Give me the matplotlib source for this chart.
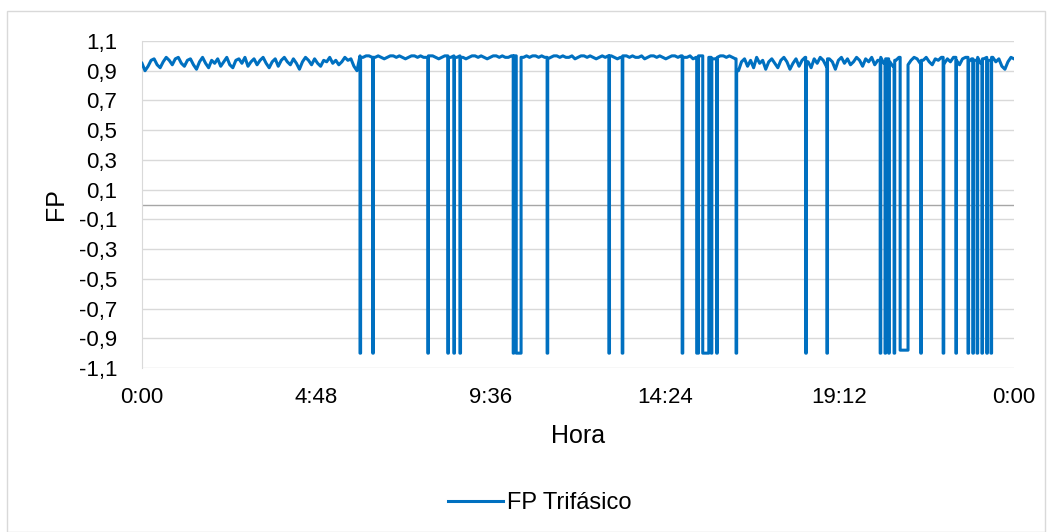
import numpy as np
import matplotlib.pyplot as plt
from matplotlib.patches import Rectangle
from matplotlib.lines import Line2D

plt.rcParams['font.family'] = ['Liberation Sans', 'DejaVu Sans']

# FP sampled every 5 min, 0:00 -> 24:00
fp_a = [0.95, 0.90, 0.93, 0.97, 0.98, 0.94, 0.92, 0.96, 0.99, 0.97, 0.94, 0.98,
        0.99, 0.95, 0.93, 0.97, 0.98, 0.94, 0.91, 0.96, 0.99, 0.95, 0.92, 0.97,
        0.95, 0.98, 0.93, 0.96, 0.99, 0.94, 0.92, 0.97, 0.98, 0.95, 0.99, 0.93,
        0.96, 0.98, 0.94, 0.97, 0.99, 0.95, 0.92, 0.96, 0.98, 0.93, 0.97, 0.99,
        0.96, 0.94, 0.98, 0.95, 0.91, 0.96, 0.99, 0.97, 0.94, 0.98, 0.95, 0.93,
        0.97, 0.96, 0.99, 0.95, 0.97, 0.94, 0.96, 0.99, 0.97, 0.98, 0.93, 0.90]
fp_b = [1.00, 0.99, 1.00, 1.00, 0.99, 0.99, 1.00, 0.99, 0.98, 0.99, 1.00, 1.00,
        0.99, 1.00, 0.99, 0.98, 0.99, 1.00, 1.00, 0.99, 1.00, 0.99, 0.99, 1.00,
        1.00, 0.99, 0.98, 0.99, 1.00, 1.00, 0.99, 1.00, 0.99, 1.00, 0.99, 0.98,
        0.99, 1.00, 1.00, 0.99, 1.00, 0.99, 0.98, 0.99, 1.00, 1.00, 0.99, 1.00,
        0.99, 0.99, 1.00, 1.00, 0.99, 0.98, 0.99, 1.00, 0.99, 1.00, 1.00, 0.99,
        1.00, 0.99, 0.98, 0.99, 1.00, 1.00, 0.99, 1.00, 0.99, 0.99, 1.00, 0.98,
        0.99, 1.00, 1.00, 0.99, 1.00, 0.99, 0.98, 0.99, 1.00, 0.99, 1.00, 1.00,
        0.99, 0.98, 0.99, 1.00, 1.00, 0.99, 1.00, 0.99, 0.99, 1.00, 0.98, 0.99,
        1.00, 1.00, 0.99, 1.00, 0.99, 0.98, 0.99, 1.00, 1.00, 0.99, 1.00, 0.99,
        0.99, 1.00, 0.98, 0.99, 1.00, 1.00, 0.99, 1.00, 0.99, 0.98, 0.99, 1.00,
        1.00, 0.99, 1.00, 0.99]
fp_c = [0.98, 0.90, 0.96, 0.98, 0.93, 0.97, 0.92, 0.99, 0.95, 0.97, 0.91, 0.96,
        0.98, 0.95, 0.92, 0.97, 0.99, 0.96, 0.91, 0.95, 0.98, 0.93, 0.97, 0.99,
        0.96, 0.92, 0.98, 0.95, 0.99, 0.97, 0.93, 0.98, 0.96, 0.91, 0.97, 0.99,
        0.95, 0.98, 0.94, 0.96, 0.99, 0.97, 0.93, 0.98, 0.96, 0.99, 0.94, 0.97,
        0.99, 0.95, 0.98, 0.96, 0.93, 0.97, 0.99, 0.96, 0.98, 0.94, 0.97, 0.99,
        0.98, 0.95, 0.97, 0.99, 0.96, 0.94, 0.98, 0.97, 0.99, 0.95, 0.98, 0.96,
        0.99, 0.97, 0.94, 0.98, 0.99, 0.96, 0.98, 0.97, 0.99, 0.95, 0.98, 0.99,
        0.97, 0.99, 0.96, 0.98, 0.93, 0.91, 0.96, 0.99, 0.98]

# drops to about -1 (minutes from 0:00)
spike_start = [360, 381, 472, 505, 515, 525, 613, 618, 669, 771, 793, 892, 916,
               926, 940, 949, 981, 1096, 1131, 1219, 1227, 1233, 1242, 1252,
               1286, 1323, 1344, 1364, 1372, 1379, 1387, 1395, 1402]
spike_end = [361, 382, 473, 506, 516, 526, 614, 626, 670, 772, 794, 893, 919,
             936, 941, 950, 982, 1097, 1132, 1220, 1228, 1234, 1243, 1265,
             1287, 1324, 1345, 1365, 1373, 1380, 1388, 1396, 1403]
spike_low = [-1.0] * 23 + [-0.98] + [-1.0] * 9

x_ticks = [0, 288, 576, 864, 1152, 1440]
x_labels = ['0:00', '4:48', '9:36', '14:24', '19:12', '0:00']
y_ticks = [1.1, 0.9, 0.7, 0.5, 0.3, 0.1, -0.1, -0.3, -0.5, -0.7, -0.9, -1.1]
y_labels = ['1,1', '0,9', '0,7', '0,5', '0,3', '0,1', '-0,1', '-0,3', '-0,5',
            '-0,7', '-0,9', '-1,1']

t_base = np.arange(0, 24 * 60 + 1, 5)
fp_base = np.array(fp_a + fp_b + fp_c)

# merge the drops into the 5-min series as vertical steps
xs, ys = [], []
k = 0
for ts, te, low in zip(spike_start, spike_end, spike_low):
    while k < len(t_base) and t_base[k] <= ts:
        xs.append(t_base[k]); ys.append(fp_base[k]); k += 1
    prev = fp_base[k - 1]
    while k < len(t_base) and t_base[k] < te:
        k += 1
    nxt = fp_base[k] if k < len(t_base) else prev
    xs += [ts, ts, te, te]
    ys += [prev, low, low, nxt]
xs += list(t_base[k:]); ys += list(fp_base[k:])

W, H = 1052, 532
fig = plt.figure(figsize=(W / 100, H / 100), dpi=100)
fig.patches.append(Rectangle((7 / W, 0.5 / H), (1045 - 7) / W, (532 - 11.5) / H,
                             transform=fig.transFigure, fill=False,
                             edgecolor='#D9D9D9', lw=1))

ax = fig.add_axes([142 / W, 1 - 368 / H, (1014 - 142) / W, (368 - 41) / H])
blue = '#0070C0'
ax.plot(xs, ys, color=blue, lw=2.2, zorder=3)
ax.axhline(0, color='#A6A6A6', lw=1.0, zorder=2)

ax.set_xlim(0, 1440)
ax.set_ylim(-1.1, 1.1)
ax.set_xticks(x_ticks)
ax.set_xticklabels(x_labels)
ax.set_yticks(y_ticks)
ax.set_yticklabels(y_labels)
ax.grid(axis='y', color='#D9D9D9', lw=1.0, zorder=1)
ax.tick_params(length=0, labelsize=16, colors='#000000')
ax.tick_params(axis='y', pad=18)
ax.tick_params(axis='x', pad=14)
for s in ['top', 'right', 'bottom']:
    ax.spines[s].set_visible(False)
ax.spines['left'].set_color('#D9D9D9')

ax.set_xlabel('Hora', fontsize=18)
ax.set_ylabel('FP', fontsize=18)
ax.xaxis.set_label_coords(0.5, (368 - 424) / 327, transform=ax.transAxes)
ax.yaxis.set_label_coords((68 - 142) / 872, 0.5, transform=ax.transAxes)

handle = Line2D([], [], color=blue, lw=2.2)
fig.legend([handle], ['FP Trifásico'], loc='center',
           bbox_to_anchor=(540 / W, 1 - 503 / H), frameon=False, fontsize=17,
           handlelength=2.3, handletextpad=0.2)

fig.savefig('out.png', dpi=100)
